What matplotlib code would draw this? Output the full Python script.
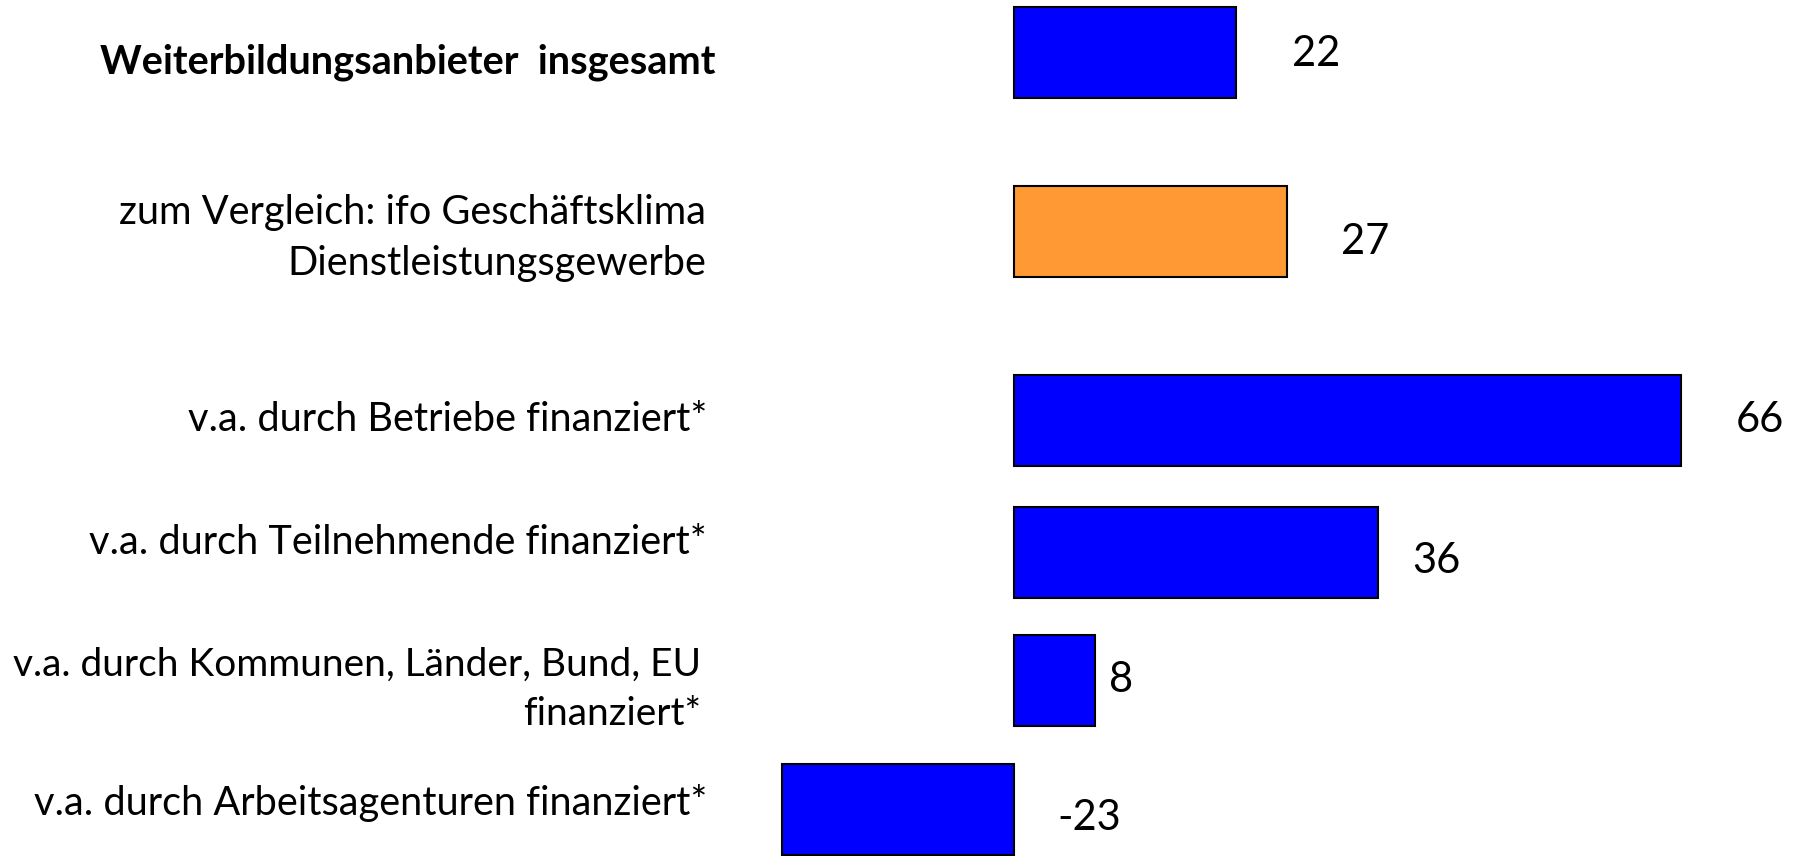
import matplotlib
matplotlib.use("Agg")
import matplotlib.pyplot as plt
import matplotlib.transforms as mtransforms

# ---- data ----
categories = [
    "Weiterbildungsanbieter  insgesamt",
    "zum Vergleich: ifo Geschäftsklima\nDienstleistungsgewerbe",
    "v.a. durch Betriebe finanziert*",
    "v.a. durch Teilnehmende finanziert*",
    "v.a. durch Kommunen, Länder, Bund, EU\nfinanziert*",
    "v.a. durch Arbeitsagenturen finanziert*",
]
values = [22, 27, 66, 36, 8, -23]
value_labels = ["22", "27", "66", "36", "8", "-23"]

# ---- layout / style ----
row_y = [52, 231, 420, 552, 680, 809]   # vertical slots (pixels from top)
bar_h = 91
colors = ["#0000FF", "#FF9933", "#0000FF", "#0000FF", "#0000FF", "#0000FF"]
bold = [True, False, False, False, False, False]
cat_dy = [10, 7, -1, -10, 9, -6]            # label nudges (px, down)
cat_right = [715, 706, 707, 707, 701, 707]  # label right edge (px)
cat_size = [28.6, 28.6, 28.6, 28.6, 28.0, 28.6]
val_dx = [56, 54, 55, 35, 14, 43]           # value label gap (px)
val_dy = [2, 11, 0, 9, 0, 9]                # value label nudges (px, down)

W, H, DPI = 1806, 856, 100
fig = plt.figure(figsize=(W / DPI, H / DPI), dpi=DPI)
ax = fig.add_axes([0, 0, 1, 1])
px_per_unit = 10.1
zero_px = 1014
ax.set_xlim(-zero_px / px_per_unit, (W - zero_px) / px_per_unit)
ax.set_ylim(H, 0)
ax.axis("off")

ax.barh(row_y, values, height=bar_h, color=colors, edgecolor="black", linewidth=1.5)

font = "Lato"
pt = 72 / DPI
trans = mtransforms.blended_transform_factory(ax.transAxes, ax.transData)
for y, cat, b, dy, xr, fs in zip(row_y, categories, bold, cat_dy, cat_right, cat_size):
    ax.text(xr / W, y + dy, cat, transform=trans, ha="right", va="center",
            fontsize=fs, family=font, fontweight="bold" if b else "normal",
            linespacing=1.45, color="black")

for y, v, lab, dx, dy in zip(row_y, values, value_labels, val_dx, val_dy):
    ax.annotate(lab, xy=(max(v, 0), y), xytext=(dx * pt, -dy * pt),
                textcoords="offset points",
                ha="left", va="center", fontsize=30, family=font, color="black")

fig.savefig("out.png", dpi=DPI, facecolor="white")
